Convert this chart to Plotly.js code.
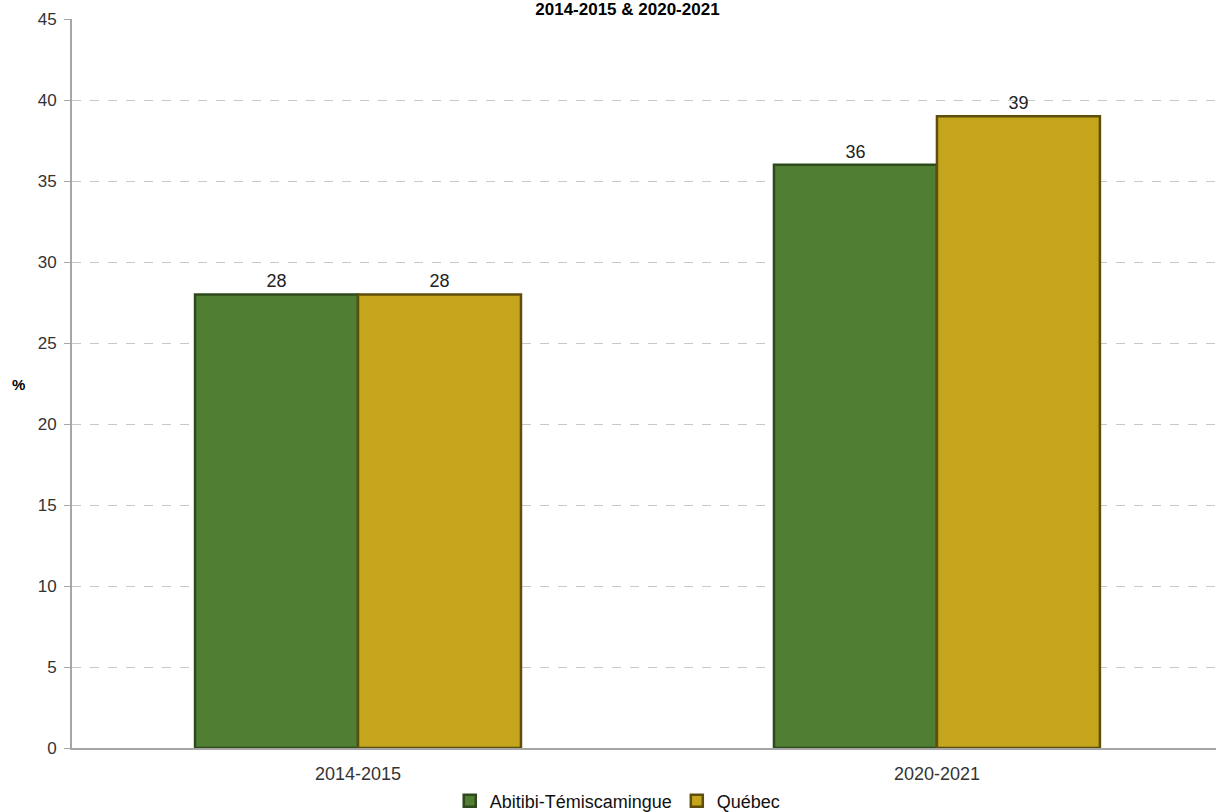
<!DOCTYPE html>
<html>
<head>
<meta charset="utf-8">
<script src="https://cdn.plot.ly/plotly-3.0.1.min.js"></script>
<style>html,body{margin:0;padding:0;background:#fff;}#chart{width:1216px;height:812px;}</style>
</head>
<body>
<div id="chart"></div>
<script>
const categories = ["2014-2015", "2020-2021"];
const abitibi = [28, 36];
const quebec = [28, 39];
const seriesNames = ["Abitibi-Témiscamingue", "Québec"];
const yTicks = [0, 5, 10, 15, 20, 25, 30, 35, 40, 45];

const font = "Liberation Sans, Arial, sans-serif";

const traces = [
  {type: "bar", x: categories, y: abitibi, name: seriesNames[0],
   marker: {color: "#507E32", line: {color: "#2E4A1C", width: 2.5}},
   text: abitibi.map(String), textposition: "outside", cliponaxis: false,
   textfont: {size: 18, color: "#222", family: font}},
  {type: "bar", x: categories, y: quebec, name: seriesNames[1],
   marker: {color: "#C4A51C", line: {color: "#5E4E0A", width: 2.5}},
   text: quebec.map(String), textposition: "outside", cliponaxis: false,
   textfont: {size: 18, color: "#222", family: font}}
];

const layout = {
  width: 1216, height: 812,
  margin: {l: 72, r: 0, t: 19, b: 64},
  paper_bgcolor: "#fff", plot_bgcolor: "#fff",
  font: {family: font, size: 17, color: "#333"},
  title: {text: "<b>2014-2015 & 2020-2021</b>", font: {size: 17, color: "#000", family: font},
          x: 0.516, xanchor: "center", xref: "container", y: 0.989, yanchor: "middle", yref: "container"},
  barmode: "group", bargap: 0.437, bargroupgap: 0,
  xaxis: {type: "category", range: [-0.494, 1.482], showgrid: false,
          showline: true, linecolor: "#A6A6A6", linewidth: 2, ticks: "",
          ticklabelstandoff: 8,
          tickfont: {size: 18, color: "#333"}},
  yaxis: {range: [0, 45], tickvals: yTicks, showgrid: true, gridcolor: "#C8C8C8",
          griddash: "dash", gridwidth: 1, zeroline: false,
          showline: true, linecolor: "#A6A6A6", linewidth: 2, ticks: "outside",
          ticklen: 6, tickcolor: "#A6A6A6", ticklabelstandoff: 4,
          tickfont: {size: 17, color: "#333"}},
  showlegend: true,
  legend: {orientation: "h", x: 0.508, xanchor: "center", xref: "container",
           y: 0.0135, yanchor: "middle", yref: "container",
           font: {size: 18, color: "#111"}, itemwidth: 30, traceorder: "normal"},
  annotations: [{text: "<b>%</b>", xref: "paper", yref: "paper", x: -0.047, y: 0.498,
                 xanchor: "center", yanchor: "middle", showarrow: false,
                 font: {size: 15, color: "#000", family: font}}]
};

Plotly.newPlot("chart", traces, layout, {displayModeBar: false, staticPlot: true});
</script>
</body>
</html>
